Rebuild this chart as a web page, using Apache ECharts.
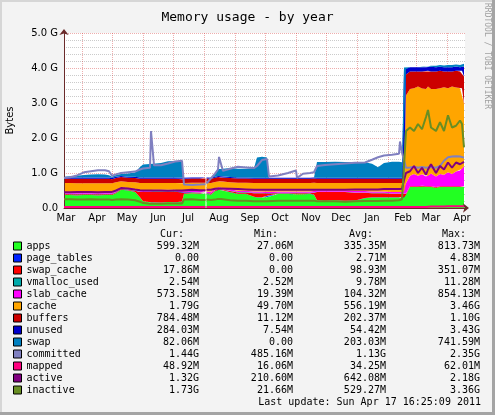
<!DOCTYPE html>
<html>
<head>
<meta charset="utf-8">
<title>Memory usage - by year</title>
<script src="https://cdn.jsdelivr.net/npm/echarts@6/dist/echarts.min.js"></script>
<style>
  html, body { margin: 0; padding: 0; background: #f3f3f3; }
  #chart { width: 495px; height: 415px; }
</style>
</head>
<body>
<div id="chart"></div>
<script>
// x axis: the plot starts on 2010-03-14, one pixel is about one day
const startDate = '2010-03-14'
const plotDays = 401
// sample positions, days counted from startDate (142 is a one-day hole in the data)
const sampleDays = [
  0, 6, 13, 20, 27, 34, 41, 45, 48, 52,
  57, 64, 71, 76, 79, 86, 87, 89, 90, 97,
  104, 111, 118, 120, 128, 136, 141.5, 142, 142.5, 147,
  151, 154, 155, 157, 159, 166, 174, 182, 190, 193,
  198, 203, 205, 214, 224, 232, 233, 239, 246, 250,
  253, 261, 271, 281, 291, 301, 308, 314, 320, 328,
  335, 336, 338, 340, 342, 346, 350, 354, 358, 362,
  364, 367, 372, 376, 380, 384, 388, 392, 396, 398,
  400
]

// month grid lines and month labels (labels sit mid-month)
const monthGrid = ['2010-04-01', '2010-05-01', '2010-06-01', '2010-07-01', '2010-08-01', '2010-09-01',
  '2010-10-01', '2010-11-01', '2010-12-01', '2011-01-01', '2011-02-01', '2011-03-01', '2011-04-01']
const monthLabelDates = ['2010-03-16', '2010-04-16', '2010-05-16', '2010-06-16', '2010-07-16', '2010-08-16',
  '2010-09-16', '2010-10-16', '2010-11-16', '2010-12-16', '2011-01-16', '2011-02-16', '2011-03-16', '2011-04-16']
const monthLabels = ['Mar', 'Apr', 'May', 'Jun', 'Jul', 'Aug', 'Sep', 'Oct', 'Nov', 'Dec', 'Jan', 'Feb', 'Mar', 'Apr']

// values in GB, stacked areas (bottom to top)
const apps = [
  0.38, 0.37, 0.36, 0.37, 0.37, 0.36, 0.37, 0.37, 0.37, 0.42,
  0.52, 0.50, 0.46, 0.30, 0.19, 0.16, 0.16, 0.16, 0.16, 0.15,
  0.17, 0.16, 0.18, 0.40, 0.42, 0.41, 0.41, null, 0.40, 0.38,
  0.48, 0.52, 0.52, 0.51, 0.50, 0.45, 0.40, 0.40, 0.32, 0.30,
  0.30, 0.31, 0.36, 0.40, 0.40, 0.39, 0.39, 0.39, 0.40, 0.38,
  0.22, 0.20, 0.22, 0.20, 0.21, 0.28, 0.30, 0.30, 0.30, 0.30,
  0.30, 0.30, 0.28, 0.30, 0.38, 0.60, 0.60, 0.60, 0.61, 0.60,
  0.60, 0.60, 0.58, 0.60, 0.60, 0.60, 0.60, 0.60, 0.60, 0.60,
  0.60
]
const pageTables = [
  0.004, 0.004, 0.004, 0.004, 0.004, 0.004, 0.004, 0.004, 0.004, 0.004,
  0.004, 0.004, 0.004, 0.004, 0.004, 0.004, 0.004, 0.004, 0.004, 0.004,
  0.004, 0.004, 0.004, 0.004, 0.004, 0.004, 0.004, null, 0.004, 0.004,
  0.004, 0.004, 0.004, 0.004, 0.004, 0.004, 0.004, 0.004, 0.004, 0.004,
  0.004, 0.004, 0.004, 0.004, 0.004, 0.004, 0.004, 0.004, 0.004, 0.004,
  0.004, 0.004, 0.004, 0.004, 0.004, 0.004, 0.004, 0.004, 0.004, 0.004,
  0.004, 0.004, 0.004, 0.004, 0, 0, 0, 0, 0, 0,
  0, 0, 0, 0, 0, 0, 0, 0, 0, 0,
  0
]
const swapCache = [
  0.02, 0.02, 0.03, 0.02, 0.02, 0.03, 0.02, 0.02, 0.02, 0.02,
  0.02, 0.02, 0.03, 0.15, 0.26, 0.30, 0.30, 0.31, 0.31, 0.32,
  0.30, 0.31, 0.28, 0.02, 0.02, 0.02, 0.02, null, 0.02, 0.03,
  0.02, 0.02, 0.02, 0.02, 0.02, 0.03, 0.04, 0.04, 0.10, 0.12,
  0.12, 0.11, 0.05, 0.02, 0.02, 0.03, 0.03, 0.03, 0.02, 0.05,
  0.23, 0.25, 0.23, 0.25, 0.22, 0.15, 0.12, 0.12, 0.12, 0.10,
  0.10, 0.10, 0.12, 0.10, 0.03, 0.02, 0.02, 0.02, 0.02, 0.02,
  0.02, 0.02, 0.02, 0.02, 0.02, 0.02, 0.02, 0.02, 0.02, 0.02,
  0.018
]
const vmallocUsed = [
  0.011, 0.011, 0.011, 0.011, 0.011, 0.011, 0.011, 0.011, 0.011, 0.011,
  0.011, 0.011, 0.011, 0.011, 0.011, 0.011, 0.011, 0.011, 0.011, 0.011,
  0.011, 0.011, 0.011, 0.011, 0.011, 0.011, 0.011, null, 0.011, 0.011,
  0.011, 0.011, 0.011, 0.011, 0.011, 0.011, 0.011, 0.011, 0.011, 0.011,
  0.011, 0.011, 0.011, 0.011, 0.011, 0.011, 0.011, 0.011, 0.011, 0.011,
  0.011, 0.011, 0.011, 0.011, 0.011, 0.011, 0.011, 0.011, 0.011, 0.011,
  0.011, 0.011, 0.011, 0.011, 0.0025, 0.0025, 0.0025, 0.0025, 0.0025, 0.0025,
  0.0025, 0.0025, 0.0025, 0.0025, 0.0025, 0.0025, 0.0025, 0.0025, 0.0025, 0.0025,
  0.0025
]
const slabCache = [
  0.04, 0.04, 0.04, 0.04, 0.04, 0.04, 0.04, 0.04, 0.04, 0.04,
  0.04, 0.04, 0.04, 0.04, 0.04, 0.04, 0.04, 0.04, 0.04, 0.04,
  0.04, 0.04, 0.04, 0.04, 0.04, 0.04, 0.04, null, 0.04, 0.04,
  0.04, 0.04, 0.04, 0.04, 0.04, 0.04, 0.04, 0.04, 0.04, 0.04,
  0.04, 0.04, 0.04, 0.04, 0.04, 0.04, 0.04, 0.04, 0.04, 0.04,
  0.04, 0.04, 0.04, 0.04, 0.04, 0.04, 0.04, 0.04, 0.04, 0.04,
  0.04, 0.04, 0.04, 0.05, 0.30, 0.30, 0.35, 0.30, 0.33, 0.28,
  0.30, 0.36, 0.30, 0.35, 0.33, 0.40, 0.35, 0.42, 0.45, 0.50,
  0.57
]
const cache = [
  0.26, 0.27, 0.26, 0.26, 0.26, 0.26, 0.26, 0.26, 0.26, 0.24,
  0.17, 0.17, 0.19, 0.21, 0.21, 0.20, 0.20, 0.19, 0.19, 0.19,
  0.19, 0.19, 0.19, 0.24, 0.23, 0.24, 0.24, null, 0.25, 0.25,
  0.19, 0.17, 0.17, 0.17, 0.18, 0.20, 0.23, 0.23, 0.24, 0.24,
  0.24, 0.24, 0.25, 0.24, 0.24, 0.24, 0.24, 0.24, 0.24, 0.24,
  0.21, 0.21, 0.21, 0.21, 0.23, 0.23, 0.24, 0.24, 0.24, 0.26,
  0.26, 0.26, 0.26, 0.10, 2.50, 2.48, 2.45, 2.55, 2.45, 2.50,
  2.55, 2.42, 2.50, 2.45, 2.50, 2.40, 2.50, 2.40, 2.35, 2.30,
  1.79
]
const buffers = [
  0.12, 0.12, 0.13, 0.13, 0.13, 0.13, 0.13, 0.13, 0.12, 0.12,
  0.12, 0.12, 0.12, 0.12, 0.12, 0.12, 0.12, 0.12, 0.12, 0.12,
  0.12, 0.12, 0.12, 0.12, 0.12, 0.12, 0.12, null, 0.12, 0.12,
  0.12, 0.12, 0.12, 0.12, 0.12, 0.12, 0.12, 0.12, 0.12, 0.12,
  0.12, 0.12, 0.12, 0.12, 0.12, 0.12, 0.12, 0.12, 0.12, 0.12,
  0.12, 0.12, 0.12, 0.12, 0.12, 0.12, 0.12, 0.12, 0.12, 0.12,
  0.12, 0.12, 0.12, 0.05, 0.60, 0.50, 0.48, 0.43, 0.49, 0.50,
  0.45, 0.50, 0.50, 0.50, 0.45, 0.48, 0.43, 0.48, 0.48, 0.50,
  0.78
]
const unused = [
  0.04, 0.04, 0.04, 0.04, 0.04, 0.04, 0.04, 0.04, 0.04, 0.04,
  0.03, 0.03, 0.04, 0.04, 0.04, 0.04, 0.04, 0.04, 0.04, 0.04,
  0.04, 0.04, 0.04, 0.03, 0.03, 0.03, 0.03, null, 0.03, 0.03,
  0.03, 0.03, 0.03, 0.03, 0.03, 0.03, 0.03, 0.03, 0.03, 0.03,
  0.03, 0.03, 0.03, 0.03, 0.03, 0.03, 0.03, 0.03, 0.03, 0.03,
  0.03, 0.03, 0.03, 0.03, 0.03, 0.03, 0.03, 0.03, 0.03, 0.03,
  0.03, 0.03, 0.03, 3.35, 0.15, 0.12, 0.12, 0.12, 0.12, 0.12,
  0.12, 0.13, 0.12, 0.11, 0.12, 0.12, 0.12, 0.12, 0.12, 0.12,
  0.28
]
const swap = [
  0.02, 0.03, 0.05, 0.07, 0.08, 0.09, 0.08, 0.06, 0.03, 0.05,
  0.06, 0.09, 0.12, 0.30, 0.37, 0.38, 0.38, 0.39, 0.39, 0.41,
  0.46, 0.47, 0.45, 0, 0, 0, 0, null, 0, 0.01,
  0.08, 0.20, 0.20, 0.21, 0.22, 0.26, 0.25, 0.25, 0.28, 0.58,
  0.60, 0.58, 0, 0, 0, 0, 0, 0, 0, 0,
  0.45, 0.45, 0.46, 0.45, 0.45, 0.44, 0.40, 0.30, 0.42, 0.46,
  0.46, 0.46, 0.44, 0.05, 0, 0, 0, 0, 0.01, 0.02,
  0.04, 0.03, 0.04, 0.05, 0.05, 0.06, 0.06, 0.06, 0.06, 0.06,
  0.08
]

// values in GB, lines drawn over the areas
const committed = [
  0.86, 0.88, 0.93, 1.02, 1.05, 1.08, 1.08, 1.05, 0.92, 0.96,
  1.00, 1.02, 1.04, 1.10, 1.13, 1.15, 2.20, 2.25, 1.22, 1.22,
  1.27, 1.33, 1.35, 0.67, 0.66, 0.67, 0.68, null, 0.70, 0.85,
  0.98, 1.10, 1.46, 1.46, 1.06, 1.12, 1.18, 1.16, 1.14, 1.20,
  1.37, 1.40, 0.90, 0.93, 1.00, 1.07, 0.86, 0.98, 1.00, 1.02,
  1.20, 1.23, 1.25, 1.27, 1.29, 1.30, 1.38, 1.45, 1.50, 1.52,
  1.55, 1.90, 1.58, 1.60, 1.15, 1.16, 1.18, 1.15, 1.17, 1.15,
  1.16, 1.17, 1.15, 1.20, 1.35, 1.45, 1.47, 1.48, 1.47, 1.46,
  1.44
]
const mapped = [
  0.03, 0.03, 0.03, 0.03, 0.03, 0.03, 0.03, 0.03, 0.03, 0.03,
  0.03, 0.03, 0.03, 0.03, 0.03, 0.03, 0.03, 0.03, 0.03, 0.03,
  0.03, 0.03, 0.03, 0.03, 0.03, 0.03, 0.03, null, 0.03, 0.03,
  0.03, 0.03, 0.03, 0.03, 0.03, 0.03, 0.03, 0.03, 0.03, 0.03,
  0.03, 0.03, 0.03, 0.03, 0.03, 0.03, 0.03, 0.03, 0.03, 0.03,
  0.03, 0.03, 0.03, 0.03, 0.03, 0.03, 0.03, 0.03, 0.03, 0.03,
  0.03, 0.03, 0.03, 0.03, 0.03, 0.03, 0.03, 0.03, 0.03, 0.03,
  0.04, 0.04, 0.04, 0.04, 0.04, 0.05, 0.05, 0.05, 0.05, 0.05,
  0.049
]
const active = [
  0.45, 0.45, 0.46, 0.46, 0.46, 0.45, 0.46, 0.46, 0.46, 0.50,
  0.57, 0.56, 0.53, 0.51, 0.50, 0.50, 0.50, 0.50, 0.50, 0.50,
  0.49, 0.50, 0.50, 0.52, 0.52, 0.51, 0.51, null, 0.52, 0.52,
  0.55, 0.56, 0.56, 0.56, 0.56, 0.55, 0.54, 0.53, 0.52, 0.52,
  0.52, 0.52, 0.52, 0.52, 0.52, 0.52, 0.52, 0.52, 0.52, 0.52,
  0.52, 0.52, 0.52, 0.52, 0.53, 0.53, 0.53, 0.53, 0.54, 0.54,
  0.54, 0.54, 0.55, 0.80, 1.00, 1.05, 1.20, 1.00, 1.15, 0.95,
  1.10, 1.25, 1.00, 1.20, 1.10, 1.30, 1.15, 1.30, 1.25, 1.30,
  1.32
]
const inactive = [
  0.25, 0.25, 0.24, 0.24, 0.25, 0.24, 0.24, 0.24, 0.23, 0.24,
  0.25, 0.24, 0.22, 0.18, 0.14, 0.12, 0.12, 0.12, 0.12, 0.12,
  0.13, 0.13, 0.13, 0.24, 0.25, 0.23, 0.23, null, 0.24, 0.23,
  0.24, 0.26, 0.26, 0.26, 0.25, 0.22, 0.21, 0.21, 0.19, 0.19,
  0.19, 0.19, 0.20, 0.21, 0.21, 0.21, 0.21, 0.21, 0.21, 0.21,
  0.19, 0.19, 0.19, 0.18, 0.19, 0.20, 0.20, 0.20, 0.21, 0.21,
  0.22, 0.22, 0.25, 1.20, 2.20, 2.30, 2.20, 2.40, 2.25, 2.60,
  2.80, 2.30, 2.20, 2.45, 2.20, 2.65, 2.30, 2.35, 2.50, 2.40,
  1.73
]

// legend table
const seriesNames = ['apps', 'page_tables', 'swap_cache', 'vmalloc_used', 'slab_cache', 'cache',
  'buffers', 'unused', 'swap', 'committed', 'mapped', 'active', 'inactive']
const seriesColors = ['#22ff22', '#0022ff', '#ff0000', '#00aaaa', '#ff00ff', '#ffa500',
  '#cc0000', '#0000cc', '#0080c0', '#8080c0', '#ff0080', '#800080', '#688e23']
const statCur = ['599.32M', '0.00', '17.86M', '2.54M', '573.58M', '1.79G', '784.48M', '284.03M', '82.06M', '1.44G', '48.92M', '1.32G', '1.73G']
const statMin = ['27.06M', '0.00', '0.00', '2.52M', '19.39M', '49.70M', '11.12M', '7.54M', '0.00', '485.16M', '16.06M', '210.60M', '21.66M']
const statAvg = ['335.35M', '2.71M', '98.93M', '9.78M', '104.32M', '556.19M', '202.37M', '54.42M', '203.03M', '1.13G', '34.25M', '642.08M', '529.27M']
const statMax = ['813.73M', '4.83M', '351.07M', '11.28M', '854.13M', '3.46G', '1.10G', '3.43G', '741.59M', '2.35G', '62.01M', '2.18G', '3.36G']
const lastUpdate = 'Last update: Sun Apr 17 16:25:09 2011'

const DAY = 86400000
const t0 = Date.parse(startDate)
// day counts for the labelling axis
const gridDays = monthGrid.map(d => Math.round((Date.parse(d) - t0) / DAY))
const labelDays = monthLabelDates.map(d => Math.round((Date.parse(d) - t0) / DAY))

const areaData = [apps, pageTables, swapCache, vmallocUsed, slabCache, cache, buffers, unused, swap]
const lineData = [committed, mapped, active, inactive]

// series sit on the time axis (index 0) so the stack sums the GB values
function pairs(values) {
  return sampleDays.map((d, i) => [t0 + d * DAY, values[i]])
}

const series = []
areaData.forEach((vals, i) => {
  series.push({
    name: seriesNames[i],
    type: 'line',
    xAxisIndex: 0,
    stack: 'memory',
    data: pairs(vals),
    color: seriesColors[i],
    symbol: 'none',
    showSymbol: false,
    lineStyle: { width: 0 },
    areaStyle: { color: seriesColors[i], opacity: 1 },
    emphasis: { disabled: true },
    silent: true
  })
})
lineData.forEach((vals, j) => {
  const i = areaData.length + j
  series.push({
    name: seriesNames[i],
    type: 'line',
    xAxisIndex: 0,
    data: pairs(vals),
    color: seriesColors[i],
    symbol: 'none',
    showSymbol: false,
    lineStyle: { width: 2, color: seriesColors[i] },
    emphasis: { disabled: true },
    silent: true
  })
})

const MONO = '"DejaVu Sans Mono", monospace'
const SANS = '"DejaVu Sans", sans-serif'
const rowTop = 246
const rowStep = 12

function txt(text, x, y, align, font, fill) {
  return {
    type: 'text',
    x: x,
    y: y,
    silent: true,
    style: {
      text: text,
      font: font || ('10px ' + MONO),
      fill: fill || '#000',
      align: align,
      verticalAlign: 'middle',
      textAlign: align,
      textVerticalAlign: 'middle'
    }
  }
}

const graphics = []
// column headers
graphics.push(txt('Cur:', 184, rowTop - rowStep, 'right'))
graphics.push(txt('Min:', 278, rowTop - rowStep, 'right'))
graphics.push(txt('Avg:', 373, rowTop - rowStep, 'right'))
graphics.push(txt('Max:', 466, rowTop - rowStep, 'right'))
seriesNames.forEach((n, i) => {
  const y = rowTop + i * rowStep
  graphics.push(txt(statCur[i], 199, y, 'right'))
  graphics.push(txt(statMin[i], 293, y, 'right'))
  graphics.push(txt(statAvg[i], 386, y, 'right'))
  graphics.push(txt(statMax[i], 480, y, 'right'))
})
graphics.push(txt(lastUpdate, 481, rowTop + seriesNames.length * rowStep, 'right'))
// watermark on the right
const mark = txt('RRDTOOL / TOBI OETIKER', 487, 56, 'center', '8px ' + MONO, '#a0a0a0')
mark.rotation = -Math.PI / 2
graphics.push(mark)
// 3d frame
graphics.push({ type: 'rect', silent: true, shape: { x: 0, y: 0, width: 495, height: 2 }, style: { fill: '#d6d6d6' } })
graphics.push({ type: 'rect', silent: true, shape: { x: 0, y: 0, width: 2, height: 415 }, style: { fill: '#d6d6d6' } })
graphics.push({ type: 'rect', silent: true, shape: { x: 492, y: 0, width: 3, height: 415 }, style: { fill: '#a4a4a4' } })
graphics.push({ type: 'rect', silent: true, shape: { x: 0, y: 412, width: 495, height: 3 }, style: { fill: '#a4a4a4' } })

const majorGrid = { color: 'rgba(210, 40, 40, 0.38)', width: 1, type: [1, 1] }
const minorGrid = { color: 'rgba(140, 140, 140, 0.45)', width: 1, type: [1, 1] }
const axisColor = '#6a2a2a'

const chart = echarts.init(document.getElementById('chart'), null, { renderer: 'canvas' })
chart.setOption({
  backgroundColor: '#f3f3f3',
  animation: false,
  title: {
    text: 'Memory usage - by year',
    left: 'center',
    top: 6,
    textStyle: { fontFamily: MONO, fontSize: 13, fontWeight: 'normal', color: '#000' }
  },
  legend: {
    orient: 'vertical',
    left: 13,
    top: 240,
    padding: 0,
    itemGap: 0,
    itemWidth: 8,
    itemHeight: 8,
    icon: 'rect',
    selectedMode: false,
    itemStyle: { borderColor: '#000', borderWidth: 1 },
    textStyle: { fontFamily: MONO, fontSize: 10, color: '#000', lineHeight: 12 },
    data: seriesNames
  },
  grid: {
    left: 64,
    right: 30,
    top: 33,
    bottom: 207,
    show: true,
    backgroundColor: '#ffffff',
    borderWidth: 0,
    outerBoundsMode: 'none'
  },
  xAxis: [
    {
      // data axis
      type: 'time',
      min: t0,
      max: t0 + plotDays * DAY,
      position: 'bottom',
      z: 3,
      axisLine: {
        show: true,
        symbol: ['none', 'arrow'],
        symbolSize: [7, 6],
        symbolOffset: [0, 4],
        lineStyle: { color: axisColor, width: 1 }
      },
      axisTick: { show: false },
      axisLabel: { show: false },
      splitLine: { show: false }
    },
    {
      // month grid and labels, in days from startDate
      type: 'value',
      min: 0,
      max: plotDays,
      position: 'bottom',
      z: 3,
      axisLine: { show: false },
      axisTick: { show: false, customValues: gridDays },
      splitLine: { show: true, lineStyle: majorGrid },
      axisLabel: {
        customValues: labelDays,
        margin: 5,
        fontFamily: SANS,
        fontSize: 10,
        color: '#000',
        formatter: function (v) {
          const k = labelDays.indexOf(Math.round(v))
          return k >= 0 ? monthLabels[k] : ''
        }
      }
    }
  ],
  yAxis: {
    type: 'value',
    min: 0,
    max: 5,
    interval: 1,
    z: 3,
    name: 'Bytes',
    nameLocation: 'middle',
    nameGap: 49,
    nameTextStyle: { fontFamily: SANS, fontSize: 10, color: '#000' },
    axisLine: {
      show: true,
      symbol: ['none', 'arrow'],
      symbolSize: [7, 6],
      symbolOffset: [0, 4],
      lineStyle: { color: axisColor, width: 1 }
    },
    axisTick: { show: false },
    minorTick: { show: false, splitNumber: 5 },
    splitLine: { show: true, lineStyle: majorGrid },
    minorSplitLine: { show: true, lineStyle: minorGrid },
    axisLabel: {
      margin: 6,
      fontFamily: SANS,
      fontSize: 10,
      color: '#000',
      formatter: function (v) {
        return v === 0 ? '0.0' : v.toFixed(1) + ' G'
      }
    }
  },
  graphic: { elements: graphics },
  series: series
})
</script>
</body>
</html>
